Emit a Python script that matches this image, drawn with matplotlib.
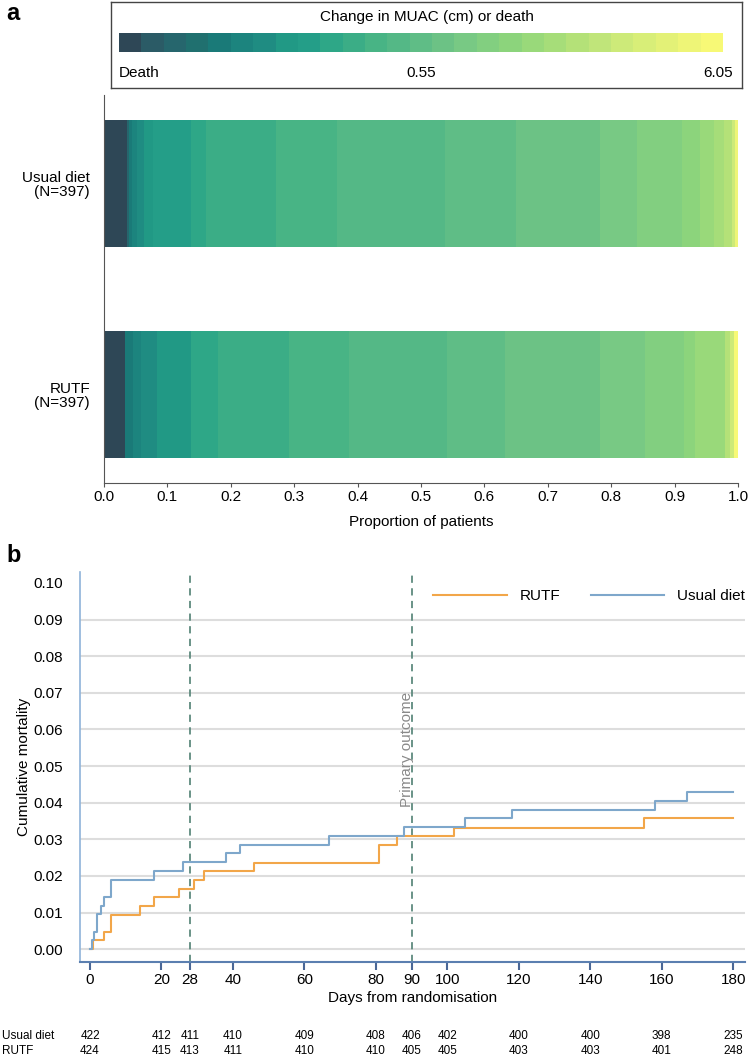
import numpy as np
import matplotlib
matplotlib.use('Agg')
import matplotlib.pyplot as plt
import matplotlib.transforms as mtransforms

plt.rcParams['font.family'] = ['Liberation Sans', 'DejaVu Sans']

# панель a: палитра из 27 уровней (смерть -> 6.05 см)
palette = ['#2e4756', '#2b5b66', '#26666d', '#20706f', '#1a7a78', '#1c847e', '#1f8c82',
           '#219985', '#249e88', '#2ea787', '#3bad86', '#48b485', '#54b886', '#5fbd86',
           '#6cc285', '#78c984', '#82cf80', '#8cd47c', '#99d97a', '#a6dd79', '#b4e178',
           '#c0e57a', '#cdea79', '#d8ee78', '#e3f177', '#eef577', '#f7f976']
cbar_labels = ['Death', '0.55', '6.05']

groups = ['RUTF\n(N=397)', 'Usual diet\n(N=397)']
usual_edges = [0.036, 0.040, 0.044, 0.052, 0.063, 0.078, 0.138, 0.161, 0.271, 0.368, 0.538,
               0.650, 0.783, 0.841, 0.911, 0.940, 0.962, 0.978, 0.990, 0.995, 1.0]
usual_bins = [0, 2, 4, 5, 6, 7, 8, 9, 10, 11, 12, 13, 14, 15, 16, 17, 18, 19, 20, 22, 25]
rutf_edges = [0.033, 0.046, 0.058, 0.083, 0.138, 0.180, 0.292, 0.387, 0.541, 0.632, 0.783,
              0.853, 0.915, 0.932, 0.979, 0.987, 0.994, 1.0]
rutf_bins = [0, 4, 5, 6, 7, 9, 10, 11, 12, 13, 14, 15, 16, 17, 18, 20, 22, 26]

# панель b: кривые Каплана-Мейера
usual_t = [0, 0.5, 1, 2, 3, 4, 6, 18, 26, 38, 42, 67, 88, 105, 118, 158, 167, 180]
usual_v = [0, 0.0024, 0.0047, 0.0095, 0.0119, 0.0143, 0.0190, 0.0214, 0.0238, 0.0262, 0.0285,
           0.0310, 0.0333, 0.0357, 0.0381, 0.0404, 0.0428, 0.0428]
rutf_t = [0, 0.8, 4, 6, 14, 18, 25, 29, 32, 46, 81, 86, 102, 155, 180]
rutf_v = [0, 0.0024, 0.0047, 0.0094, 0.0118, 0.0142, 0.0165, 0.0189, 0.0213, 0.0236, 0.0284,
          0.0308, 0.0332, 0.0357, 0.0357]

risk_days = [0, 20, 28, 40, 60, 80, 90, 100, 120, 140, 160, 180]
risk_usual = [422, 412, 411, 410, 409, 408, 406, 402, 400, 400, 398, 235]
risk_rutf = [424, 415, 413, 411, 410, 410, 405, 405, 403, 403, 401, 248]

W, H = 751, 1058
fig = plt.figure(figsize=(W / 100, H / 100), dpi=100)


def box(l, t, r, b):
    return [l / W, 1 - b / H, (r - l) / W, (b - t) / H]


# рамка легенды-шкалы
ax_box = fig.add_axes(box(111, 2, 742, 88))
ax_box.set_xticks([])
ax_box.set_yticks([])
for s in ax_box.spines.values():
    s.set_color('#444444')
    s.set_linewidth(1.0)
ax_box.text(0.5, 0.82, 'Change in MUAC (cm) or death', ha='center', va='center',
            fontsize=11, transform=ax_box.transAxes)

ax_cb = fig.add_axes(box(119, 33, 723, 52))
ax_cb.imshow(np.arange(len(palette))[None, :], cmap=matplotlib.colors.ListedColormap(palette),
             aspect='auto', extent=(0, len(palette), 0, 1))
ax_cb.axis('off')
fig.text(119 / W, 1 - 73 / H, cbar_labels[0], ha='left', va='center', fontsize=11)
fig.text(421 / W, 1 - 73 / H, cbar_labels[1], ha='center', va='center', fontsize=11)
fig.text(733 / W, 1 - 73 / H, cbar_labels[2], ha='right', va='center', fontsize=11)

# панель a
ax1 = fig.add_axes(box(104, 95, 738, 483))
for yi, (edges, bins) in enumerate([(rutf_edges, rutf_bins), (usual_edges, usual_bins)]):
    left = [0] + edges[:-1]
    widths = np.array(edges) - np.array(left)
    ax1.barh([yi] * len(edges), widths, left=left, height=0.6,
             color=[palette[b] for b in bins], linewidth=0)
ax1.set_xlim(0, 1)
ax1.set_ylim(-0.417, 1.417)
ax1.set_yticks([0, 1])
ax1.set_yticklabels(groups, fontsize=11, linespacing=1.0)
for lbl in ax1.get_yticklabels():
    lbl.set_multialignment('right')
ax1.set_xticks(np.arange(0, 1.01, 0.1))
ax1.set_xticklabels(['%.1f' % v for v in np.arange(0, 1.01, 0.1)], fontsize=11)
ax1.tick_params(axis='y', length=0, pad=10)
ax1.tick_params(axis='x', length=3, color='#555555', pad=2)
ax1.set_xlabel('Proportion of patients', fontsize=11, labelpad=8)
for s in ['top', 'right']:
    ax1.spines[s].set_visible(False)
for s in ['left', 'bottom']:
    ax1.spines[s].set_color('#555555')

# панель b
ax2 = fig.add_axes(box(80, 572, 745, 962))
yt = np.arange(0, 0.101, 0.01)
ax2.hlines(yt[:-1], -2.8, 183.3, color='#dddddd', linewidth=1.5, zorder=0)
for d in [28, 90]:
    ax2.axvline(d, color='#5e8a7e', linestyle=(0, (4, 3)), linewidth=1.3, zorder=1)
ax2.step(rutf_t, rutf_v, where='post', color='#f2a649', linewidth=1.5, label='RUTF', zorder=3)
ax2.step(usual_t, usual_v, where='post', color='#7ea7cb', linewidth=1.5, label='Usual diet', zorder=3)
ax2.text(88.6, 0.0388, 'Primary outcome', rotation=90, ha='center', va='bottom',
         fontsize=11, color='#8a8a8a')
ax2.set_xlim(-2.8, 183.3)
ax2.set_ylim(-0.0035, 0.103)
ax2.set_yticks(yt)
ax2.set_yticklabels(['%.2f' % v for v in yt], fontsize=11)
ax2.set_xticks(risk_days)
ax2.set_xticklabels([str(d) for d in risk_days], fontsize=11)
ax2.tick_params(axis='y', length=0, pad=12)
ax2.tick_params(axis='x', length=6, width=1.5, color='#4a6796', pad=2)
ax2.set_xlabel('Days from randomisation', fontsize=11, labelpad=3)
ax2.set_ylabel('Cumulative mortality', fontsize=11, labelpad=2)
for s in ['top', 'right']:
    ax2.spines[s].set_visible(False)
ax2.spines['left'].set_color('#8fb3d9')
ax2.spines['left'].set_linewidth(1.2)
ax2.spines['bottom'].set_color('#5b7fb0')
ax2.spines['bottom'].set_linewidth(1.5)
ax2.legend(loc='center right', bbox_to_anchor=(1.0, 0.938), ncol=2, frameon=False,
           fontsize=11, handlelength=4.8, handletextpad=0.85, columnspacing=2.0,
           borderaxespad=0, borderpad=0)

# таблица числа под риском
tr = mtransforms.blended_transform_factory(ax2.transData, fig.transFigure)
for name, vals, ypx in [('Usual diet', risk_usual, 1036), ('RUTF', risk_rutf, 1051)]:
    fig.text(2 / W, 1 - ypx / H, name, ha='left', va='center', fontsize=8.5)
    for d, n in zip(risk_days, vals):
        fig.text(d, 1 - ypx / H, str(n), ha='center', va='center', fontsize=8.5, transform=tr)

fig.text(6 / W, 1 - 14 / H, 'a', fontsize=17, fontweight='bold', ha='left', va='center')
fig.text(6 / W, 1 - 555 / H, 'b', fontsize=17, fontweight='bold', ha='left', va='center')

fig.savefig('out.png', dpi=100)
